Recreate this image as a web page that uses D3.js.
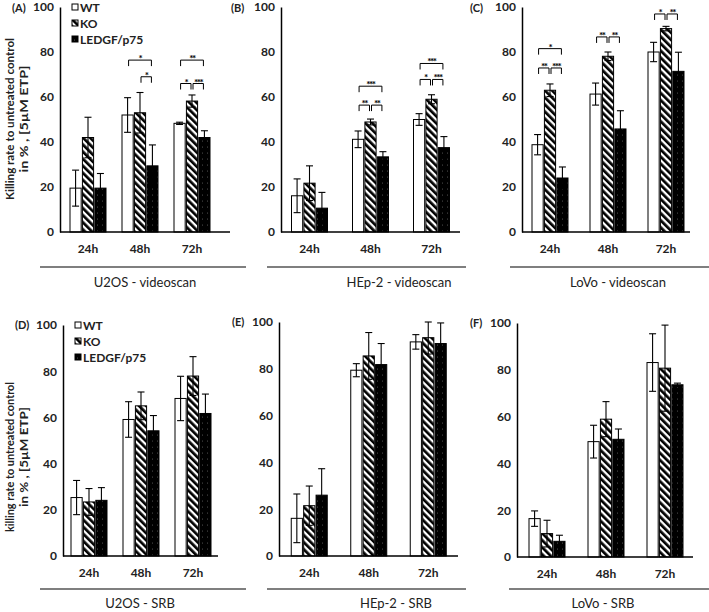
<!DOCTYPE html>
<html>
<head>
<meta charset="utf-8">
<script src="https://cdn.jsdelivr.net/npm/d3@7"></script>
<style>
  body { margin: 0; background: #fff; }
  svg { display: block; font-family: Lato, "Open Sans", sans-serif; }
</style>
</head>
<body>
<div id="chart"></div>
<script>
// categories and series shared by all six panels
const categories = ["24h", "48h", "72h"];
const series = ["WT", "KO", "LEDGF/p75"];
const yTicks = [0, 20, 40, 60, 80, 100];

// means / errors per time point, order WT, KO, LEDGF/p75
const meansA = [[19.5, 42, 19.5], [52, 53, 29.4], [48.3, 58.2, 42]];
const errsA = [[8, 9, 6.5], [7.7, 9, 9.3], [0.5, 2.7, 3]];
const meansB = [[16.1, 21.7, 10.6], [41.2, 48.9, 33.4], [50, 59, 37.5]];
const errsB = [[7.5, 7.7, 7], [3.7, 1.3, 2.3], [2.6, 2, 4.9]];
const meansC = [[38.8, 63, 24], [61.3, 78.1, 45.8], [80, 90.4, 71.4]];
const errsC = [[4.5, 2.8, 4.9], [4.9, 1.9, 8.1], [4.3, 1, 8.5]];
const meansD = [[25.3, 23.4, 24.1], [59.1, 65, 54.2], [68.2, 77.9, 61.7]];
const errsD = [[7.4, 5.8, 5.5], [7.7, 6, 6.6], [9.6, 8.4, 8.4]];
const meansE = [[16.1, 21.5, 26], [79.4, 85.5, 81.8], [91.5, 93.3, 90.8]];
const errsE = [[10.4, 8.4, 11.3], [2.8, 10, 9], [3.1, 7, 8.8]];
const meansF = [[16.4, 10, 6.7], [49.3, 58.9, 50.3], [83.1, 80.7, 73.6]];
const errsF = [[3.3, 5.7, 2.6], [7, 7.5, 4.4], [12.3, 18.4, 0.7]];

// significance brackets: time, from series, to series, level, label
const sigA = [["48h", 0, 2, 76.4, "*"], ["48h", 1, 2, 69, "*"],
  ["72h", 0, 2, 76.4, "**"], ["72h", 0, 1, 66, "*"], ["72h", 1, 2, 66, "***"]];
const sigB = [["48h", 0, 2, 64.8, "***"], ["48h", 0, 1, 56.4, "**"], ["48h", 1, 2, 56.4, "**"],
  ["72h", 0, 2, 74.9, "***"], ["72h", 0, 1, 67.8, "*"], ["72h", 1, 2, 67.8, "***"]];
const sigC = [["24h", 0, 2, 81.5, "*"], ["24h", 0, 1, 72.9, "**"], ["24h", 1, 2, 72.9, "***"],
  ["48h", 0, 1, 86.7, "**"], ["48h", 1, 2, 86.7, "**"],
  ["72h", 0, 1, 96.9, "*"], ["72h", 1, 2, 96.9, "**"]];

const panels = [
  { tag: "(A)", means: meansA, errs: errsA, sig: sigA, title: "U2OS - videoscan",
    axisX: 60, endX: 230, band: [62, 218], yr: [232, 7], tagPos: [12, 12], lineX: [40, 246], lineY: 267, titleX: 145, titleY: 287, legend: true },
  { tag: "(B)", means: meansB, errs: errsB, sig: sigB, title: "HEp-2 - videoscan",
    axisX: 281, endX: 460, band: [279, 462], yr: [232, 7], tagPos: [231, 12], lineX: [267, 466], lineY: 267, titleX: 399, titleY: 287 },
  { tag: "(C)", means: meansC, errs: errsC, sig: sigC, title: "LoVo - videoscan",
    axisX: 522, endX: 690, band: [521, 695], yr: [232, 7], tagPos: [470, 12], lineX: [510, 709], lineY: 267, titleX: 618, titleY: 287 },
  { tag: "(D)", means: meansD, errs: errsD, sig: [], title: "U2OS - SRB",
    axisX: 63, endX: 218, band: [63, 219], yr: [556, 325], tagPos: [15, 329], lineX: [40, 246], lineY: 589, titleX: 140, titleY: 608, legend: true },
  { tag: "(E)", means: meansE, errs: errsE, sig: [], title: "HEp-2 - SRB",
    axisX: 279, endX: 458, band: [279.5, 458], yr: [556, 322], tagPos: [232, 326], lineX: [267, 466], lineY: 589, titleX: 396, titleY: 608 },
  { tag: "(F)", means: meansF, errs: errsF, sig: [], title: "LoVo - SRB",
    axisX: 517, endX: 693, band: [517.5, 694.5], yr: [557, 323], tagPos: [470, 327], lineX: [509, 709], lineY: 589, titleX: 603, titleY: 608 }
];

const svg = d3.select("#chart").append("svg")
    .attr("width", 709)
    .attr("height", 612);

// fill patterns for KO (stripes) and LEDGF/p75 (black with faint dots)
const defs = svg.append("defs");
const stripes = defs.append("pattern").attr("id", "stripes")
    .attr("patternUnits", "userSpaceOnUse")
    .attr("width", 5).attr("height", 5)
    .attr("patternTransform", "rotate(-45)");
stripes.append("rect").attr("width", 5).attr("height", 5).attr("fill", "#fff");
stripes.append("rect").attr("width", 2.7).attr("height", 5).attr("fill", "#000");
const dots = defs.append("pattern").attr("id", "dots")
    .attr("patternUnits", "userSpaceOnUse")
    .attr("width", 5).attr("height", 6);
dots.append("rect").attr("width", 5).attr("height", 6).attr("fill", "#000");
dots.append("circle").attr("cx", 2.5).attr("cy", 3).attr("r", 0.5).attr("fill", "#6a6a6a");

const fills = ["#fff", "url(#stripes)", "url(#dots)"];

function drawPanel(p) {
  const g = svg.append("g");
  const x = d3.scaleBand().domain(categories).range(p.band);
  const xs = d3.scaleBand().domain(d3.range(series.length)).range([-18, 18]).paddingInner(0.1);
  const y = d3.scaleLinear().domain([0, 100]).range(p.yr);

  // y axis
  const ya = g.append("g")
      .attr("transform", `translate(${p.axisX},0)`)
      .call(d3.axisLeft(y).tickValues(yTicks).tickSize(0).tickPadding(6));
  ya.select(".domain").attr("stroke", "#000").attr("stroke-width", 1.5);
  ya.selectAll("text").attr("font-family", "Lato, sans-serif").attr("font-weight", "bold").attr("font-size", 12).attr("fill", "#222");

  // x axis, line drawn by hand so it runs past the last band
  const xa = g.append("g")
      .attr("transform", `translate(0,${p.yr[0]})`)
      .call(d3.axisBottom(x).tickSize(0).tickPadding(12));
  xa.select(".domain").remove();
  xa.selectAll("text").attr("font-family", "Lato, sans-serif").attr("font-weight", "bold").attr("font-size", 12).attr("fill", "#222");

  const rows = [];
  p.means.forEach((ms, i) => ms.forEach((m, j) => rows.push({ t: categories[i], s: j, m: m, e: p.errs[i][j] })));

  g.selectAll(".bar").data(rows).join("rect")
      .attr("x", d => x(d.t) + x.bandwidth() / 2 + xs(d.s))
      .attr("width", xs.bandwidth())
      .attr("y", d => y(d.m))
      .attr("height", d => y(0) - y(d.m))
      .attr("fill", d => fills[d.s])
      .attr("stroke", "#000")
      .attr("stroke-width", 1);

  g.append("line")
      .attr("x1", p.axisX).attr("x2", p.endX)
      .attr("y1", y(0)).attr("y2", y(0))
      .attr("stroke", "#000").attr("stroke-width", 1.5);

  // error bars
  const cx = d => x(d.t) + x.bandwidth() / 2 + xs(d.s) + xs.bandwidth() / 2;
  const eb = g.selectAll(".err").data(rows).join("g").attr("stroke", "#000").attr("stroke-width", 1.1);
  eb.append("line").attr("x1", cx).attr("x2", cx)
      .attr("y1", d => y(Math.max(0, d.m - d.e))).attr("y2", d => y(Math.min(100, d.m + d.e)));
  eb.append("line").attr("x1", d => cx(d) - 3.5).attr("x2", d => cx(d) + 3.5)
      .attr("y1", d => y(Math.min(100, d.m + d.e))).attr("y2", d => y(Math.min(100, d.m + d.e)));
  eb.append("line").attr("x1", d => cx(d) - 3.5).attr("x2", d => cx(d) + 3.5)
      .attr("y1", d => y(d.m - d.e)).attr("y2", d => y(d.m - d.e));

  // significance brackets
  p.sig.forEach(([t, a, b, lvl, lab]) => {
    const xa1 = cx({ t: t, s: a }) + 1;
    const xb1 = cx({ t: t, s: b }) - 1;
    const yl = y(lvl);
    g.append("path")
        .attr("d", `M${xa1},${yl + 6}V${yl}H${xb1}V${yl + 6}`)
        .attr("fill", "none").attr("stroke", "#000").attr("stroke-width", 1);
    g.append("text").text(lab)
        .attr("x", (xa1 + xb1) / 2).attr("y", yl + 2)
        .attr("text-anchor", "middle")
        .attr("letter-spacing", -1.5)
        .attr("font-size", 10).attr("font-weight", "bold");
  });

  g.append("text").text(p.tag)
      .attr("x", p.tagPos[0]).attr("y", p.tagPos[1])
      .attr("font-size", 11).attr("font-weight", "bold").attr("fill", "#222");

  g.append("line")
      .attr("x1", p.lineX[0]).attr("x2", p.lineX[1])
      .attr("y1", p.lineY).attr("y2", p.lineY)
      .attr("stroke", "#555").attr("stroke-width", 1.5);
  g.append("text").text(p.title)
      .attr("x", p.titleX).attr("y", p.titleY)
      .attr("text-anchor", "middle")
      .attr("font-size", 13).attr("fill", "#222");

  if (p.legend) {
    const top = p.yr[1];
    const lg = g.append("g").attr("transform", `translate(${p.axisX + 12},${top})`);
    series.forEach((s, i) => {
      lg.append("rect").attr("x", 0).attr("y", i * 16 - 3).attr("width", 6).attr("height", 6)
          .attr("fill", fills[i]).attr("stroke", "#000").attr("stroke-width", 1);
      lg.append("text").text(s).attr("x", 8).attr("y", i * 16 + 4.5)
          .attr("font-size", 12).attr("font-weight", "bold").attr("fill", "#222");
    });
  }
}

panels.forEach(drawPanel);

// y axis titles
function yTitle(lines, cy, lens) {
  lines.forEach((l, i) => {
    svg.append("text").text(l)
        .attr("transform", `translate(${14 + i * 14},${cy}) rotate(-90)`)
        .attr("text-anchor", "middle")
        .attr("textLength", lens[i])
        .attr("lengthAdjust", "spacingAndGlyphs")
        .attr("font-size", 11.5).attr("font-weight", "bold").attr("fill", "#222");
  });
}
yTitle(["Killing rate to untreated control", "in % , [5µM ETP]"], 119, [162, 107]);
yTitle(["killing rate to untreated control", "in % , [5µM ETP]"], 457, [150, 100]);
</script>
</body>
</html>
